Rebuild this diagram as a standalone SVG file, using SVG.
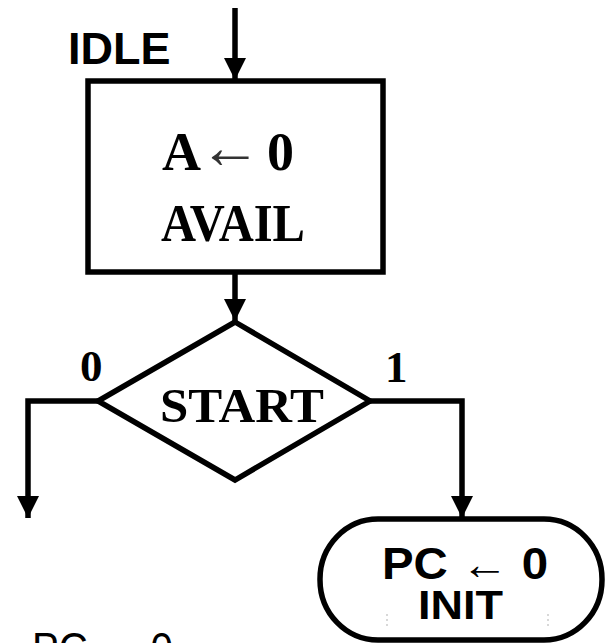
<svg xmlns="http://www.w3.org/2000/svg" width="607" height="643" viewBox="0 0 607 643">
  <style>
    .shape { fill: #ffffff; stroke: #000000; stroke-width: 5.5; }
    .wire { fill: none; stroke: #000000; stroke-width: 5.5; stroke-linejoin: miter; }
    .serif { font-family: "Liberation Serif", "Times New Roman", serif; font-weight: bold; fill: #000000; }
    .sans { font-family: "Liberation Sans", Arial, sans-serif; font-weight: bold; fill: #000000; }
    .sansreg { font-family: "Liberation Sans", Arial, sans-serif; font-weight: normal; fill: #000000; }
  </style>
  <defs>
    <marker id="arrow" markerUnits="userSpaceOnUse" markerWidth="24" markerHeight="24" viewBox="0 0 24 24" refX="22" refY="12" orient="auto">
      <path d="M0,1 L22,12 L0,23 Z" fill="#000000"/>
    </marker>
  </defs>
  <rect width="607" height="643" fill="#ffffff"/>

  <g id="connectors">
    <line class="wire" x1="235" y1="8" x2="235" y2="80" marker-end="url(#arrow)"/>
    <line class="wire" x1="235" y1="272" x2="235" y2="321" marker-end="url(#arrow)"/>
    <polyline class="wire" points="98,401 28,401 28,518" marker-end="url(#arrow)"/>
    <polyline class="wire" points="370,401 462,401 462,518" marker-end="url(#arrow)"/>
  </g>

  <g id="idle-label">
    <text class="sans" x="68" y="64" font-size="45">IDLE</text>
  </g>

  <g id="idle-box">
    <rect class="shape" x="88" y="81" width="295" height="191"/>
    <text class="serif" x="162" y="170" font-size="54"><tspan>A</tspan><tspan font-weight="normal" font-size="62" dx="-2" dy="-2" fill="#333333">←</tspan><tspan dx="6" dy="2">0</tspan></text>
    <text class="serif" x="161" y="241" font-size="52" textLength="144" lengthAdjust="spacingAndGlyphs">AVAIL</text>
  </g>

  <g id="start-decision">
    <polygon class="shape" points="235,322 370,401 235,480 98,401"/>
    <text class="serif" x="160" y="422" font-size="49" textLength="164" lengthAdjust="spacingAndGlyphs">START</text>
  </g>

  <g id="branch-labels">
    <text class="serif" x="80" y="381" font-size="45">0</text>
    <text class="serif" x="385" y="382" font-size="45">1</text>
  </g>

  <g id="init-terminal">
    <rect class="shape" x="320" y="519" width="282" height="121" rx="58" ry="60"/>
    <text class="sans" x="382" y="579" font-size="44" textLength="166" lengthAdjust="spacingAndGlyphs">PC ← 0</text>
    <text class="sans" x="418" y="619" font-size="41" textLength="85" lengthAdjust="spacingAndGlyphs">INIT</text>
    <line x1="387" y1="614" x2="387" y2="628" stroke="#cccccc" stroke-width="1.5" stroke-dasharray="2,3"/>
    <line x1="548" y1="614" x2="548" y2="628" stroke="#cccccc" stroke-width="1.5" stroke-dasharray="2,3"/>
  </g>

  <g id="next-state">
    <text class="sansreg" x="32" y="664" font-size="45" textLength="141" lengthAdjust="spacingAndGlyphs">PC ← 0</text>
  </g>
</svg>
